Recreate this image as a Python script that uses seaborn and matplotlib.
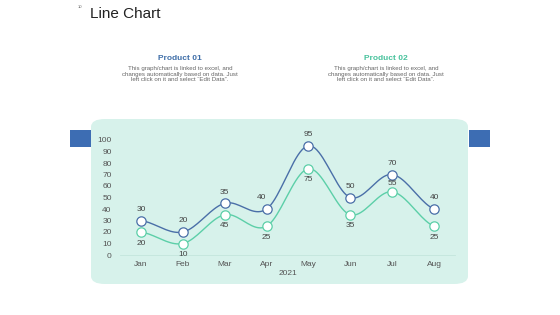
import numpy as np
import pandas as pd
import matplotlib
matplotlib.use("Agg")
import matplotlib.pyplot as plt
from matplotlib.patches import FancyBboxPatch, Rectangle
import seaborn as sns

MONTHS = ["Jan", "Feb", "Mar", "Apr", "May", "Jun", "Jul", "Aug"]
PRODUCT_01 = [30, 20, 45, 40, 95, 50, 70, 40]
PRODUCT_02 = [20, 10, 35, 25, 75, 35, 55, 25]
# labels as printed on the original slide
LABELS_01 = ["30", "20", "35", "40", "95", "50", "70", "40"]
LABELS_02 = ["20", "10", "45", "25", "75", "35", "55", "25"]
YTICKS = [0, 10, 20, 30, 40, 50, 60, 70, 80, 90, 100]

BLUE = "#4a6fa8"
GREEN = "#5ccfa8"
PANEL = "#d7f2eb"
RECT = "#3d6db3"
DESC = "This graph/chart is linked to excel, and\nchanges automatically based on data. Just\nleft click on it and select \u201cEdit Data\u201d."


def smooth(xs, ys, n=20):
    # Catmull-Rom curve through the points, only for drawing
    xs = np.asarray(xs, float)
    ys = np.asarray(ys, float)
    px = np.concatenate([[2 * xs[0] - xs[1]], xs, [2 * xs[-1] - xs[-2]]])
    py = np.concatenate([[ys[0]], ys, [ys[-1]]])
    out_x, out_y = [], []
    for i in range(1, len(px) - 2):
        t = np.linspace(0, 1, n, endpoint=False)
        for p, out in ((px, out_x), (py, out_y)):
            p0, p1, p2, p3 = p[i - 1], p[i], p[i + 1], p[i + 2]
            v = 0.5 * ((2 * p1) + (-p0 + p2) * t + (2 * p0 - 5 * p1 + 4 * p2 - p3) * t ** 2
                       + (-p0 + 3 * p1 - 3 * p2 + p3) * t ** 3)
            out.extend(v)
    out_x.append(xs[-1])
    out_y.append(ys[-1])
    return np.array(out_x), np.array(out_y)


sns.set_theme(style="white")
plt.rcParams["font.family"] = ["Liberation Sans", "DejaVu Sans"]

fig = plt.figure(figsize=(5.6, 3.15), dpi=100)
W, H = 560, 315


def fx(px):
    return px / W


def fy(py):
    return 1 - py / H


# background panel and side blocks
fig.patches.append(FancyBboxPatch((fx(91), fy(284)), fx(377), (284 - 119) / H,
                                  boxstyle="round,pad=0,rounding_size=0.025",
                                  transform=fig.transFigure, facecolor=PANEL, edgecolor="none", zorder=-2))
fig.patches.append(Rectangle((fx(70), fy(147)), fx(21), 17 / H, transform=fig.transFigure,
                             facecolor=RECT, edgecolor="none", zorder=-2))
fig.patches.append(Rectangle((fx(469), fy(147)), fx(21), 17 / H, transform=fig.transFigure,
                             facecolor=RECT, edgecolor="none", zorder=-2))

# header
fig.text(fx(78), fy(7), "10", fontsize=3, color="#666666", va="center")
fig.text(fx(90), fy(14), "Line Chart", fontsize=11, color="#222222", va="center")
fig.text(fx(180), fy(58), "Product 01", fontsize=6, color="#3f6ea8", fontweight="bold", ha="center", va="center")
fig.text(fx(180), fy(74), DESC, fontsize=4.4, color="#666666", ha="center", va="center", linespacing=1.1)
fig.text(fx(386), fy(58), "Product 02", fontsize=6, color="#47c29c", fontweight="bold", ha="center", va="center")
fig.text(fx(386), fy(74), DESC, fontsize=4.4, color="#666666", ha="center", va="center", linespacing=1.1)

ax = fig.add_axes([fx(120), fy(255), fx(335), 120.75 / H])
ax.patch.set_alpha(0)

x = np.arange(len(MONTHS))
for vals, color in ((PRODUCT_01, BLUE), (PRODUCT_02, GREEN)):
    sx, sy = smooth(x, vals)
    sns.lineplot(x=sx, y=sy, ax=ax, color=color, linewidth=1.0, sort=False, zorder=2)
    ax.scatter(x, vals, s=45, facecolor="white", edgecolor=color, linewidth=0.9, zorder=3)

for i in range(len(MONTHS)):
    dx = -4 if MONTHS[i] == "Apr" else 0
    ax.annotate(LABELS_01[i], (x[i], PRODUCT_01[i]), xytext=(dx, 8), textcoords="offset points",
                ha="center", va="center", fontsize=6, color="#444444")
    dy = 6 if MONTHS[i] == "Jul" else -8
    ax.annotate(LABELS_02[i], (x[i], PRODUCT_02[i]), xytext=(0, dy), textcoords="offset points",
                ha="center", va="center", fontsize=6, color="#444444")

ax.set_xlim(-0.5, 7.5)
ax.set_ylim(0, 105)
ax.set_xticks(x)
ax.set_xticklabels(MONTHS)
ax.set_yticks(YTICKS)
ax.tick_params(axis="both", labelsize=6, colors="#555555", length=0, pad=4)
ax.tick_params(axis="y", pad=6)
for side in ("top", "right", "left"):
    ax.spines[side].set_visible(False)
ax.spines["bottom"].set_color("#c3e6dc")
ax.spines["bottom"].set_linewidth(0.6)
ax.set_xlabel("2021", fontsize=6, color="#555555", labelpad=2)
ax.set_ylabel("")

fig.savefig("out.png", dpi=100)
